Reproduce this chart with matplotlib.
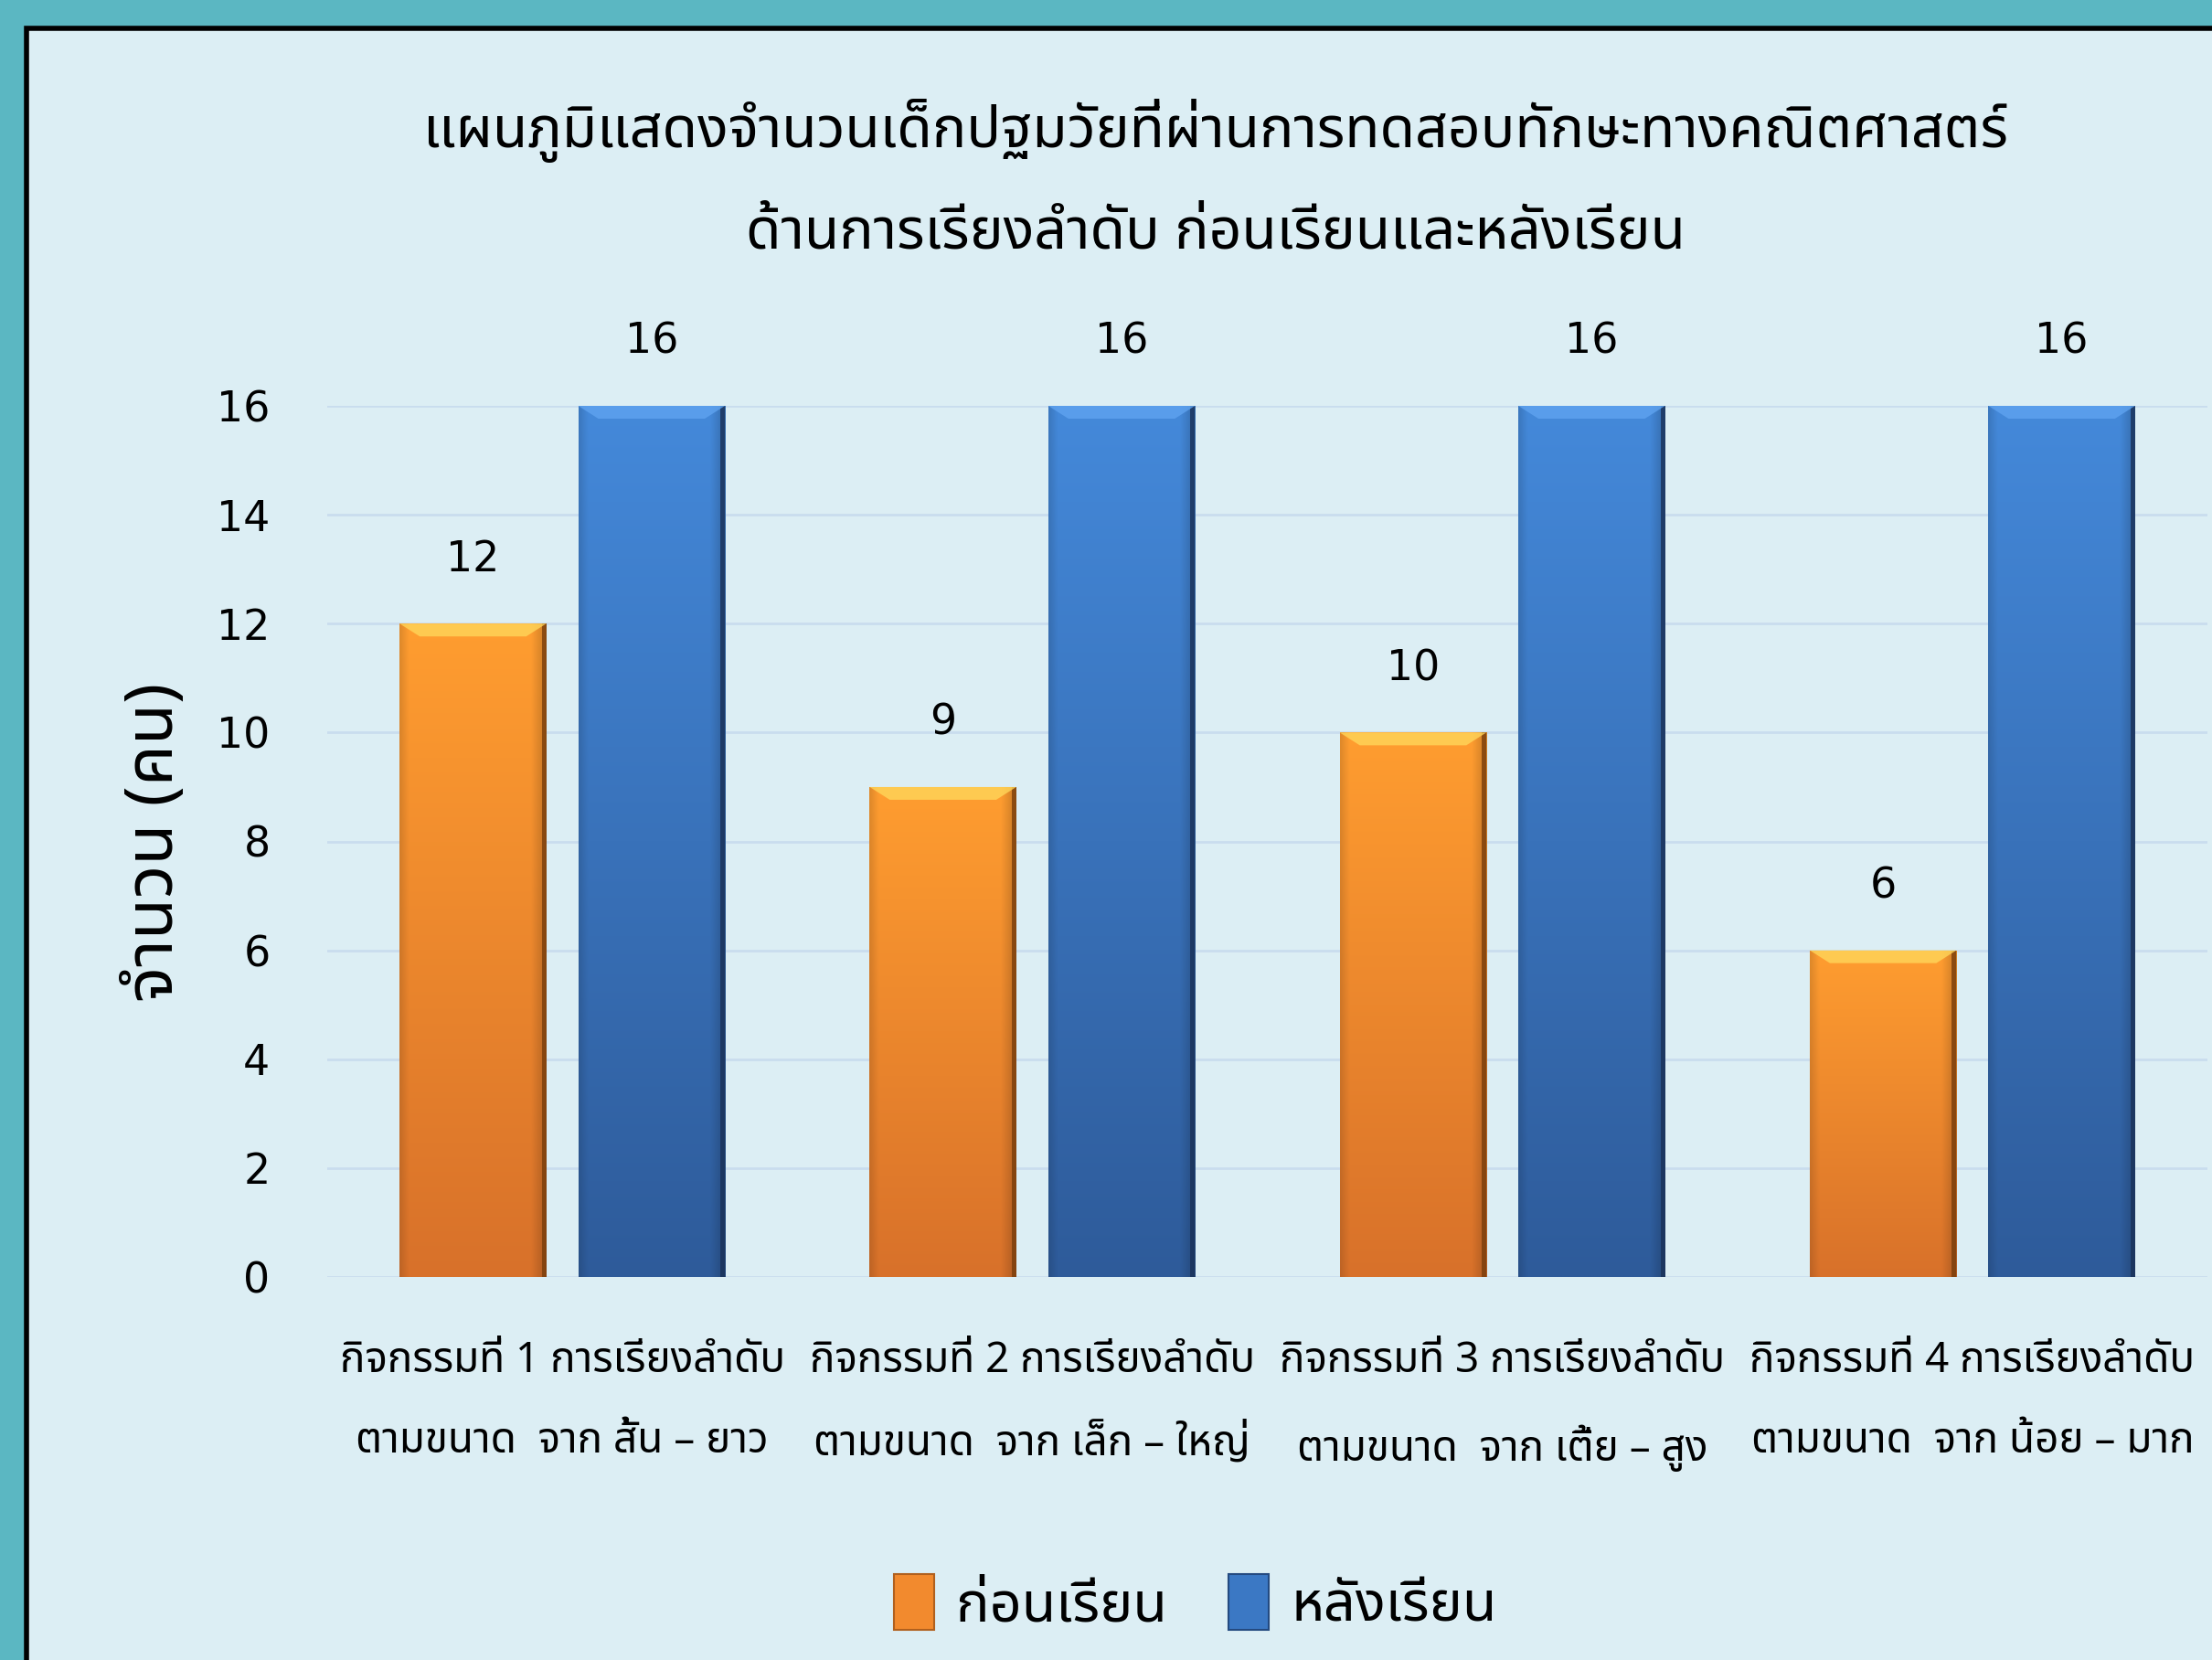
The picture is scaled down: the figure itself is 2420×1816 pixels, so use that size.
import numpy as np
import matplotlib
matplotlib.use("Agg")
import matplotlib.pyplot as plt
from matplotlib import font_manager as fm
from matplotlib.ft2font import FT2Font
from matplotlib.patches import Rectangle, Polygon
from matplotlib.colors import to_rgb

# ---------------- data ----------------
categories = [
    "กิจกรรมที่ 1 การเรียงลำดับ\nตามขนาด  จาก สั้น – ยาว",
    "กิจกรรมที่ 2 การเรียงลำดับ\nตามขนาด  จาก เล็ก – ใหญ่",
    "กิจกรรมที่ 3 การเรียงลำดับ\nตามขนาด  จาก เตี้ย – สูง",
    "กิจกรรมที่ 4 การเรียงลำดับ\nตามขนาด  จาก น้อย – มาก",
]
before = [12, 9, 10, 6]
after = [16, 16, 16, 16]
series_names = ["ก่อนเรียน", "หลังเรียน"]
yticks = [0, 2, 4, 6, 8, 10, 12, 14, 16]
title_lines = ["แผนภูมิแสดงจำนวนเด็กปฐมวัยที่ผ่านการทดสอบทักษะทางคณิตศาสตร์",
               "ด้านการเรียงลำดับ ก่อนเรียนและหลังเรียน"]
ylabel = "จำนวน (คน)"


# ---------------- fonts ----------------
def find_thai_font():
    prefs = ["Noto Sans Thai", "Noto Sans Thai UI", "Noto Sans Thai Looped", "Sarabun",
             "TH Sarabun New", "Loma", "Garuda", "Waree", "Norasi", "Kinnari",
             "Umpush", "Tlwg Typo", "Noto Serif Thai", "Tahoma", "Leelawadee UI"]
    found = {}
    for f in fm.fontManager.ttflist:
        if f.name in found:
            continue
        try:
            cm = FT2Font(f.fname).get_charmap()
        except Exception:
            continue
        if 0x0E01 in cm and 0x0E48 in cm:
            found[f.name] = f.fname
    for p in prefs:
        if p in found:
            return p
    return next(iter(found), None)


thai = find_thai_font()
fam = [thai, "DejaVu Sans"] if thai else ["DejaVu Sans"]
plt.rcParams["font.family"] = fam

W, H = 2420, 1816
fig = plt.figure(figsize=(W / 100, H / 100), dpi=100)
fig.patch.set_facecolor("#5BB7C2")

# inner panel
panel = Rectangle((29 / W, -0.01), 1.2, 1 - 31 / H + 0.01, transform=fig.transFigure,
                  facecolor="#DCEEF4", edgecolor="black", linewidth=4, zorder=-5)
fig.patches.append(panel)

ax = fig.add_axes([358 / W, 419 / H, (2415 - 358) / W, (1397 - 444) / H])
ax.set_zorder(2)
ax.set_facecolor("none")
ax.set_xlim(-0.5, 3.5)
ax.set_ylim(0, 16)
for s in ax.spines.values():
    s.set_visible(False)
ax.set_yticks(yticks)
ax.yaxis.grid(True, color="#C9DDEE", linewidth=2)
ax.set_axisbelow(True)
ax.tick_params(axis="y", length=0, pad=45, labelsize=33, labelcolor="black")
ax.tick_params(axis="x", length=0, pad=50, labelsize=33)
for lab in ax.get_yticklabels():
    lab.set_family(["DejaVu Sans"])

x = np.arange(len(categories))
bw = 0.312
off = 0.19
bars_b = ax.bar(x - off, before, bw, color="#F28A2E", zorder=2)
bars_a = ax.bar(x + off, after, bw, color="#3B78C4", zorder=2)

ax.set_xticks(x)
ax.set_xticklabels(categories, linespacing=2.18)

# pixel to data conversion
fig.canvas.draw()
bbox = ax.get_window_extent()
ppu_y = bbox.height / 16.0
ppu_x = bbox.width / 4.0


def shade(bars, top_c, bot_c, edge_c, hi_c):
    top_c, bot_c, edge_c, hi_c = map(np.array, map(to_rgb, (top_c, bot_c, edge_c, hi_c)))
    for r in bars:
        x0, w, h = r.get_x(), r.get_width(), r.get_height()
        ny, nx = 300, 80
        t = np.linspace(0, 1, ny)[:, None, None]  # 0 top -> 1 bottom
        col = top_c * (1 - t) + bot_c * t
        img = np.repeat(col, nx, axis=1)
        u = np.linspace(0, 1, nx)
        dark = np.ones(nx)
        dark -= 0.12 * np.clip((0.06 - u) / 0.06, 0, 1)
        dark -= 0.20 * np.clip((u - 0.90) / 0.10, 0, 1)
        img = img * dark[None, :, None]
        im = ax.imshow(img, extent=(x0, x0 + w, 0, h), aspect="auto", zorder=3,
                       interpolation="bilinear")
        im.set_clip_path(r)
        # dark right edge
        ex = 5 / ppu_x
        ax.add_patch(Rectangle((x0 + w - ex, 0), ex, h, facecolor=edge_c, edgecolor="none",
                               zorder=4, alpha=0.8))
        # top bevel highlight
        bh = 14 / ppu_y
        bi = 22 / ppu_x
        ax.add_patch(Polygon([(x0, h), (x0 + w, h), (x0 + w - bi, h - bh), (x0 + bi, h - bh)],
                             closed=True, facecolor=hi_c, edgecolor="none", zorder=4, alpha=0.8))
        # label
        ax.annotate(f"{h:g}", (x0 + w / 2, h), xytext=(0, 34), textcoords="offset points",
                    ha="center", va="bottom", fontsize=33, family=["DejaVu Sans"], zorder=5)


shade(bars_b, "#FF9D30", "#D8712A", "#7A3E0C", "#FFD65A")
shade(bars_a, "#4489DA", "#2E5B9A", "#1A3158", "#5FA3F0")

ax.set_xlim(-0.5, 3.5)
ax.set_ylim(0, 16)

# titles
fig.text(1330 / W, 1 - 143 / H, title_lines[0], ha="center", va="center", fontsize=45)
fig.text(1330 / W, 1 - 255 / H, title_lines[1], ha="center", va="center", fontsize=45)

# y label
fig.text(170 / W, 1 - 921 / H, ylabel, rotation=90, ha="center", va="center", fontsize=53)

# legend
handles = [Rectangle((0, 0), 1, 1, facecolor="#F28A2E", edgecolor="#B0601E", linewidth=1.5),
           Rectangle((0, 0), 1, 1, facecolor="#3B78C4", edgecolor="#244A80", linewidth=1.5)]
fig.legend(handles, series_names, loc="center", bbox_to_anchor=(1308 / W, 1 - 1755 / H),
           ncol=2, frameon=False, fontsize=44, handlelength=0.72, handleheight=1.15,
           handletextpad=0.4, columnspacing=1.1)

fig.savefig("out.png", dpi=100, facecolor=fig.get_facecolor())
